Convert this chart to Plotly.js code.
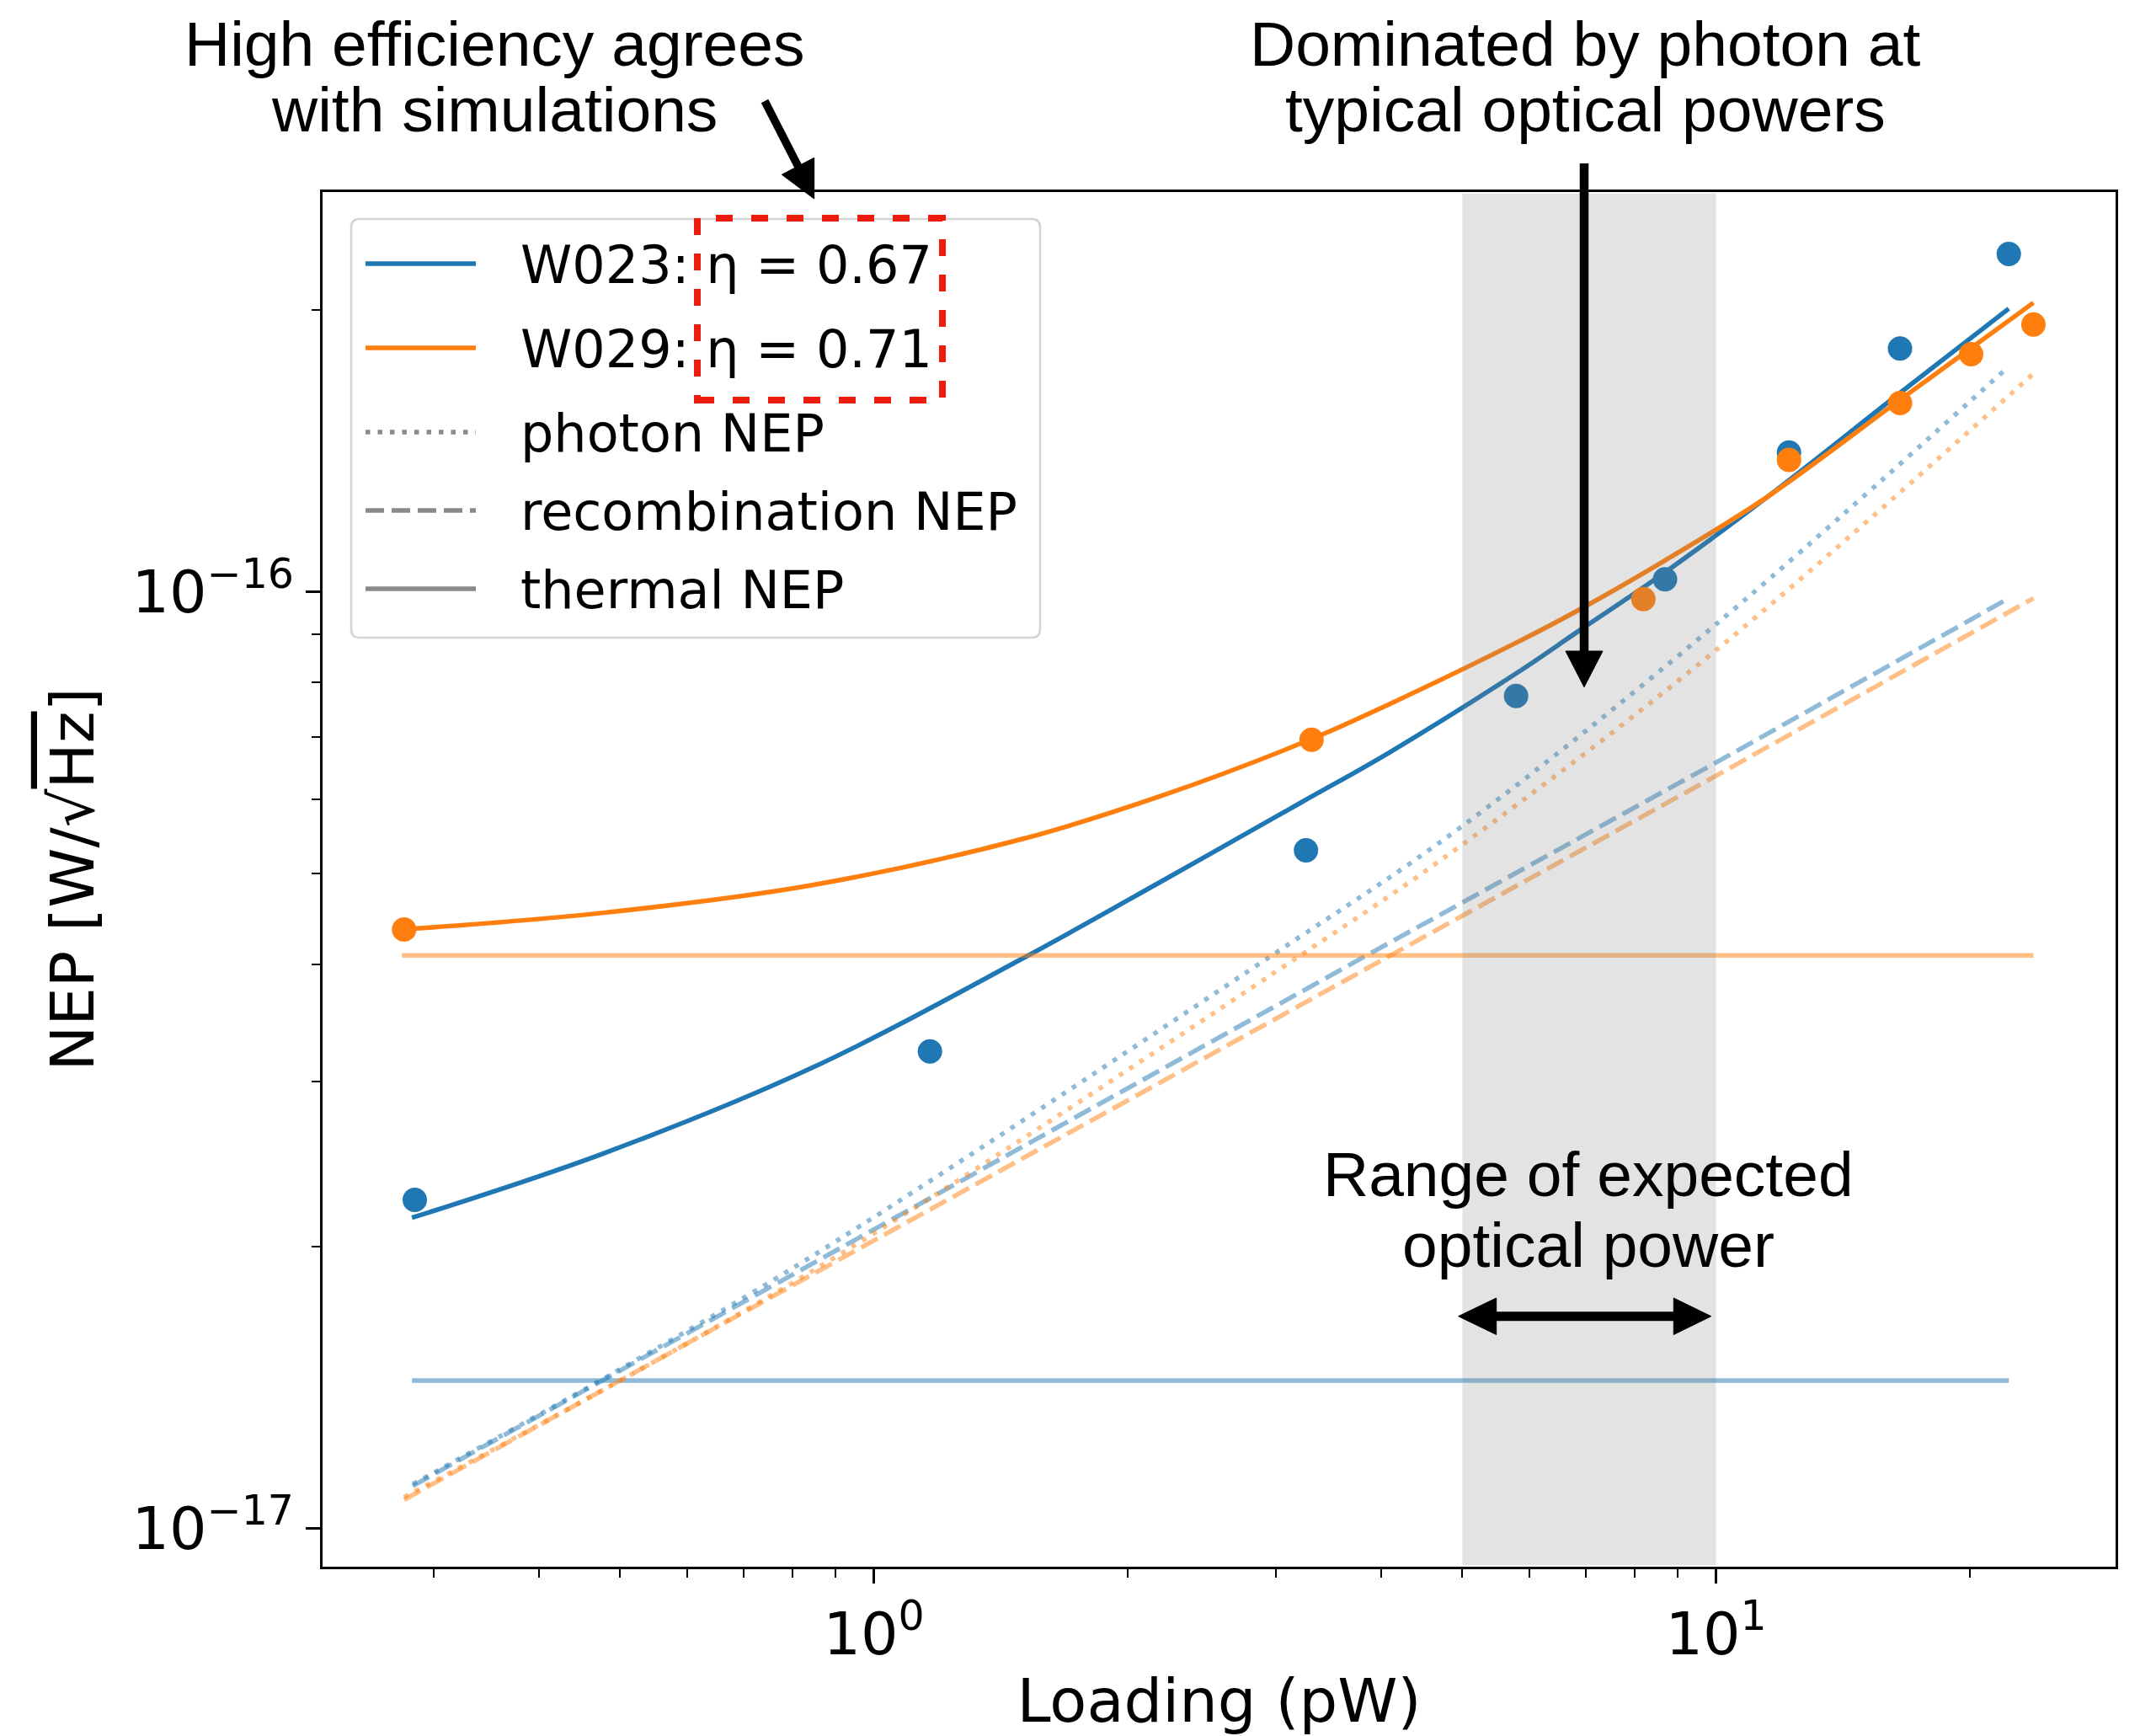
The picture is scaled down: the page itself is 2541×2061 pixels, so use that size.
<!DOCTYPE html>
<html>
<head>
<meta charset="utf-8">
<script src="https://cdn.plot.ly/plotly-3.0.1.min.js"></script>
<style>html,body{margin:0;padding:0;background:#ffffff;}</style>
</head>
<body>
<div id="chart" style="width:2541px;height:2061px;"></div>
<script>
// ---------------- data ----------------
// measured points
const w023X = [0.2851, 1.166, 3.26, 5.79, 8.70, 12.21, 16.54, 22.27];
const w023Y = [2.243e-17, 3.231e-17, 5.295e-17, 7.74e-17, 1.031e-16, 1.408e-16, 1.818e-16, 2.294e-16];
const w029X = [0.2769, 3.31, 8.20, 12.21, 16.54, 20.09, 23.82];
const w029Y = [4.358e-17, 6.95e-17, 9.82e-17, 1.383e-16, 1.590e-16, 1.793e-16, 1.929e-16];

// fitted total NEP curves
const w023FitX = [0.2829, 0.4755, 0.843, 1.495, 2.19, 3.21, 4.10, 5.79, 6.87, 8.70, 11.53, 16.54, 22.27];
const w023FitY = [2.146e-17, 2.51e-17, 3.10e-17, 4.05e-17, 4.90e-17, 5.95e-17, 6.74e-17, 8.18e-17, 9.08e-17, 1.049e-16, 1.264e-16, 1.630e-16, 2.006e-16];
const w029FitX = [0.2769, 0.4755, 0.843, 1.495, 2.19, 3.32, 4.10, 5.79, 6.87, 8.70, 11.53, 16.54, 20.09, 23.82];
const w029FitY = [4.36e-17, 4.54e-17, 4.86e-17, 5.44e-17, 6.05e-17, 6.97e-17, 7.59e-17, 8.82e-17, 9.56e-17, 1.080e-16, 1.264e-16, 1.603e-16, 1.82e-16, 2.035e-16];

// photon NEP (dotted)
const w023PhotonX = [0.2835, 0.494, 0.843, 2.97, 4.97, 10, 22.27];
const w023PhotonY = [1.115e-17, 1.47e-17, 1.95e-17, 4.09e-17, 5.60e-17, 9.23e-17, 1.740e-16];
const w029PhotonX = [0.2769, 0.843, 3.21, 4.97, 10, 23.82];
const w029PhotonY = [1.08e-17, 1.88e-17, 4.09e-17, 5.35e-17, 8.66e-17, 1.709e-16];

// recombination NEP (dashed)
const w023RecombX = [0.2835, 3.81, 10, 22.27];
const w023RecombY = [1.11e-17, 4.07e-17, 6.57e-17, 9.84e-17];
const w029RecombX = [0.2769, 4.12, 10, 23.82];
const w029RecombY = [1.073e-17, 4.09e-17, 6.36e-17, 9.84e-17];

// thermal NEP (flat)
const w023ThermalX = [0.2829, 22.27];
const w023ThermalY = [1.438e-17, 1.438e-17];
const w029ThermalX = [0.2752, 23.82];
const w029ThermalY = [4.09e-17, 4.09e-17];

// expected optical power range (pW)
const expectedRange = [5, 10];

// labels / ticks
const legendLabels = ['W023: η = 0.67', 'W029: η = 0.71', 'photon NEP', 'recombination NEP', 'thermal NEP'];
const xTickVals = [1, 10];
const xTickText = ['10<sup>0</sup>', '10<sup>1</sup>'];
const yTickVals = [1e-17, 1e-16];
const yTickText = ['10<sup>−17</sup>', '10<sup>−16</sup>'];
const xMinorVals = [0.3, 0.4, 0.5, 0.6, 0.7, 0.8, 0.9, 2, 3, 4, 5, 6, 7, 8, 9, 20];
const yMinorVals = [2e-17, 3e-17, 4e-17, 5e-17, 6e-17, 7e-17, 8e-17, 9e-17, 2e-16];
const xTitle = 'Loading (pW)';
const yTitle = 'NEP [W/√<span style="text-decoration:overline">Hz</span>]';
const noteEfficiency = ['High efficiency agrees', 'with simulations'];
const notePhoton = ['Dominated by photon at', 'typical optical powers'];
const noteRange = ['Range of expected', 'optical power'];

// ---------------- styling / layout helpers ----------------
const BLUE = '#1f77b4', ORANGE = '#ff7f0e';
const BLUE_FAINT = 'rgba(31,119,180,0.5)', ORANGE_FAINT = 'rgba(255,127,14,0.5)';
const LEGEND_GRAY = '#8a8a8a';
const LW = 5.5;
const DOT = '5.5px,9px';
const DASH = '22px,9px';

const FIG_W = 2541, FIG_H = 2061;
const PL = 383, PR = 2512, PT = 228, PB = 1860;
const PW = PR - PL, PH = PB - PT;
function px(X) { return (X - PL) / PW; }
function py(Y) { return (PB - Y) / PH; }

function lineTrace(x, y, color, dash, shape) {
  return {x: x, y: y, type: 'scatter', mode: 'lines', showlegend: false, hoverinfo: 'skip',
          line: {color: color, width: LW, dash: dash || 'solid', shape: shape || 'linear', smoothing: 1}};
}
function pointTrace(x, y, color) {
  return {x: x, y: y, type: 'scatter', mode: 'markers', showlegend: false, hoverinfo: 'skip',
          marker: {color: color, size: 29, line: {width: 0}}};
}

const traces = [
  lineTrace(w023ThermalX, w023ThermalY, BLUE_FAINT),
  lineTrace(w023RecombX, w023RecombY, BLUE_FAINT, DASH),
  lineTrace(w023PhotonX, w023PhotonY, BLUE_FAINT, DOT, 'spline'),
  lineTrace(w023FitX, w023FitY, BLUE, 'solid', 'spline'),
  pointTrace(w023X, w023Y, BLUE),
  lineTrace(w029ThermalX, w029ThermalY, ORANGE_FAINT),
  lineTrace(w029RecombX, w029RecombY, ORANGE_FAINT, DASH),
  lineTrace(w029PhotonX, w029PhotonY, ORANGE_FAINT, DOT, 'spline'),
  lineTrace(w029FitX, w029FitY, ORANGE, 'solid', 'spline'),
  pointTrace(w029X, w029Y, ORANGE)
];

// ---------------- shapes ----------------
const shapes = [];
// shaded expected range (translucent, drawn over the data)
shapes.push({type: 'rect', xref: 'x', yref: 'paper', x0: expectedRange[0], x1: expectedRange[1], y0: 0.001, y1: 0.999,
             fillcolor: 'rgba(128,128,128,0.22)', line: {width: 0}, layer: 'above'});

// legend box (rounded)
(function () {
  const x0 = px(417), x1 = px(1235), yTop = py(260), yBot = py(757);
  const rx = 10 / PW, ry = 10 / PH;
  const p = `M ${x0 + rx},${yTop} L ${x1 - rx},${yTop} Q ${x1},${yTop} ${x1},${yTop - ry} ` +
            `L ${x1},${yBot + ry} Q ${x1},${yBot} ${x1 - rx},${yBot} L ${x0 + rx},${yBot} ` +
            `Q ${x0},${yBot} ${x0},${yBot + ry} L ${x0},${yTop - ry} Q ${x0},${yTop} ${x0 + rx},${yTop} Z`;
  shapes.push({type: 'path', xref: 'paper', yref: 'paper', path: p,
               fillcolor: 'rgba(255,255,255,0.85)', line: {color: '#d4d4d4', width: 2.5}, layer: 'above'});
})();
const legendRowsY = [313, 413, 513, 606, 699];
const legendLineStyles = [
  {color: BLUE, dash: 'solid'}, {color: ORANGE, dash: 'solid'},
  {color: LEGEND_GRAY, dash: DOT}, {color: LEGEND_GRAY, dash: DASH}, {color: LEGEND_GRAY, dash: 'solid'}
];
legendRowsY.forEach(function (Y, i) {
  shapes.push({type: 'line', xref: 'paper', yref: 'paper', x0: px(434), x1: px(565), y0: py(Y), y1: py(Y),
               line: {color: legendLineStyles[i].color, width: LW, dash: legendLineStyles[i].dash}, layer: 'above'});
});

// red dashed highlight box
shapes.push({type: 'rect', xref: 'paper', yref: 'paper', x0: px(828), x1: px(1119), y0: py(475), y1: py(259),
             line: {color: '#ee1c0e', width: 8, dash: '20px,22px'}, fillcolor: 'rgba(0,0,0,0)', layer: 'above'});

function tri(a, b, c) {
  return `M ${px(a[0])},${py(a[1])} L ${px(b[0])},${py(b[1])} L ${px(c[0])},${py(c[1])} Z`;
}
function arrowLine(x0, y0, x1, y1, w) {
  shapes.push({type: 'line', xref: 'paper', yref: 'paper', x0: px(x0), y0: py(y0), x1: px(x1), y1: py(y1),
               line: {color: '#000000', width: w}, layer: 'above'});
}
function arrowHead(a, b, c) {
  shapes.push({type: 'path', xref: 'paper', yref: 'paper', path: tri(a, b, c),
               fillcolor: '#000000', line: {color: '#000000', width: 1}, layer: 'above'});
}
// diagonal arrow to the red box
arrowLine(908, 120, 949, 200, 9.5);
arrowHead([966.7, 236], [928.3, 207.3], [966.7, 187.3]);
// vertical arrow
arrowLine(1881, 194, 1881, 776, 10.5);
arrowHead([1881, 815.7], [1859, 773], [1903, 773]);
// double arrow
arrowLine(1774, 1562.7, 1990, 1562.7, 11);
arrowHead([1731.7, 1562.7], [1776.7, 1541], [1776.7, 1584.5]);
arrowHead([2031.7, 1562.7], [1987.3, 1541], [1987.3, 1584.5]);

// ---------------- annotations ----------------
const annotations = [];
const NOTE_FONT = {family: 'Liberation Sans, Arial, Helvetica, sans-serif', size: 75, color: '#000000'};
function note(text, X, Y) {
  annotations.push({text: text, xref: 'paper', yref: 'paper', x: px(X), y: py(Y),
                    xanchor: 'center', yanchor: 'middle', showarrow: false, font: NOTE_FONT});
}
note(noteEfficiency[0], 587, 52);
note(noteEfficiency[1], 587, 130);
note(notePhoton[0], 1882, 52);
note(notePhoton[1], 1882, 130);
note(noteRange[0], 1886, 1394);
note(noteRange[1], 1886, 1478);

const LEG_FONT = {family: 'DejaVu Sans, sans-serif', size: 62, color: '#000000'};
legendLabels.forEach(function (t, i) {
  annotations.push({text: t, xref: 'paper', yref: 'paper', x: px(616), y: py(legendRowsY[i] + 1),
                    xanchor: 'left', yanchor: 'middle', showarrow: false, font: LEG_FONT});
});

// ---------------- layout ----------------
const AX_FONT = {family: 'DejaVu Sans, sans-serif', size: 70, color: '#000000'};
const TITLE_FONT = {family: 'DejaVu Sans, sans-serif', size: 72, color: '#000000'};
const layout = {
  width: FIG_W, height: FIG_H,
  margin: {l: PL, r: FIG_W - PR, t: PT, b: FIG_H - PB, pad: 0},
  paper_bgcolor: '#ffffff', plot_bgcolor: '#ffffff',
  showlegend: false, hovermode: false,
  font: {family: 'DejaVu Sans, sans-serif', color: '#000000'},
  xaxis: {
    type: 'log', range: [-0.6545, 1.4745], showgrid: false, zeroline: false,
    showline: true, linecolor: '#000000', linewidth: 3, mirror: true,
    ticks: 'outside', ticklen: 17, tickwidth: 2.5, tickcolor: '#000000',
    tickmode: 'array', tickvals: xTickVals, ticktext: xTickText, tickfont: AX_FONT,
    minor: {tickmode: 'array', tickvals: xMinorVals, ticks: 'outside', ticklen: 10, tickwidth: 2, tickcolor: '#000000', showgrid: false},
    title: {text: xTitle, font: TITLE_FONT, standoff: 14}
  },
  yaxis: {
    type: 'log', range: [-17.0409, -15.5733], showgrid: false, zeroline: false,
    showline: true, linecolor: '#000000', linewidth: 3, mirror: true,
    ticks: 'outside', ticklen: 17, tickwidth: 2.5, tickcolor: '#000000',
    tickmode: 'array', tickvals: yTickVals, ticktext: yTickText, tickfont: AX_FONT,
    minor: {tickmode: 'array', tickvals: yMinorVals, ticks: 'outside', ticklen: 10, tickwidth: 2, tickcolor: '#000000', showgrid: false},
    title: {text: yTitle, font: TITLE_FONT, standoff: 22}
  },
  shapes: shapes,
  annotations: annotations
};

Plotly.newPlot('chart', traces, layout, {displayModeBar: false, staticPlot: true});
</script>
</body>
</html>
